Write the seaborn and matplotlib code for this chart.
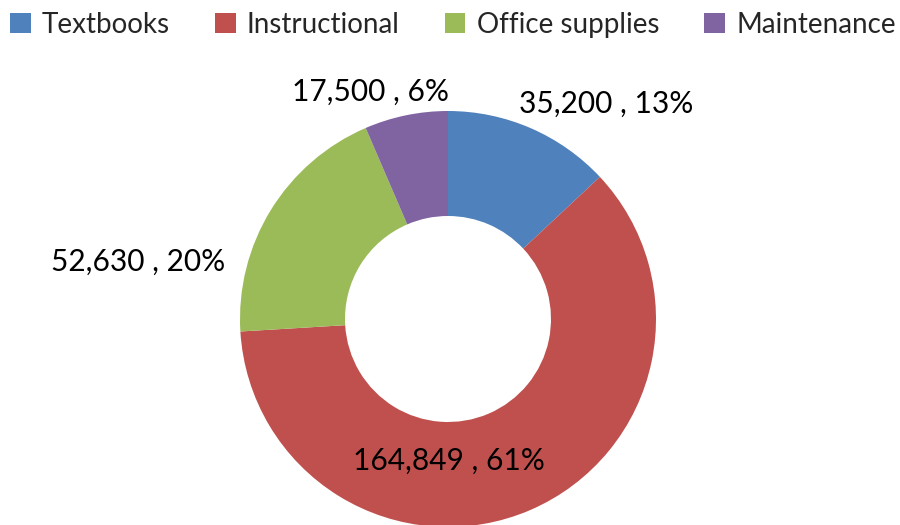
import matplotlib
matplotlib.use("Agg")
import matplotlib.pyplot as plt
import seaborn as sns
from matplotlib.patches import Patch

categories = ["Textbooks", "Instructional", "Office supplies", "Maintenance"]
amounts = [35200, 164849, 52630, 17500]
pct_labels = ["13%", "61%", "20%", "6%"]
colors = ["#4F81BD", "#C0504D", "#9BBB59", "#8064A2"]

sns.set_theme(style="white")
plt.rcParams["font.family"] = ["Lato", "DejaVu Sans"]

fig = plt.figure(figsize=(9, 5.25), dpi=100)
ax = fig.add_axes([0, 0, 1, 1])
ax.set_xlim(0, 900)
ax.set_ylim(0, 525)
ax.set_aspect("equal")
ax.axis("off")

# donut (pixel space, y measured from bottom)
wedges, _ = ax.pie(amounts, colors=colors, startangle=90, counterclock=False,
                   center=(448, 206), radius=208,
                   wedgeprops=dict(width=105, edgecolor="none"))
ax.set_xlim(0, 900)
ax.set_ylim(0, 525)

# data labels, placed like Excel's best-fit
label_pos = [(606, 421), (449, 64), (138, 263), (371, 433)]
for amt, pct, (x, y) in zip(amounts, pct_labels, label_pos):
    ax.text(x, y, f"{amt:,} , {pct}", ha="center", va="center",
            fontsize=21.5, color="black")

handles = [Patch(facecolor=c, edgecolor="none") for c in colors]
fig.legend(handles, categories, loc="upper center", ncol=4, frameon=False,
           bbox_to_anchor=(0.503, 1.025), fontsize=20, handlelength=0.75,
           handleheight=0.75, handletextpad=0.4, columnspacing=1.62)

fig.savefig("out.png", dpi=100)
